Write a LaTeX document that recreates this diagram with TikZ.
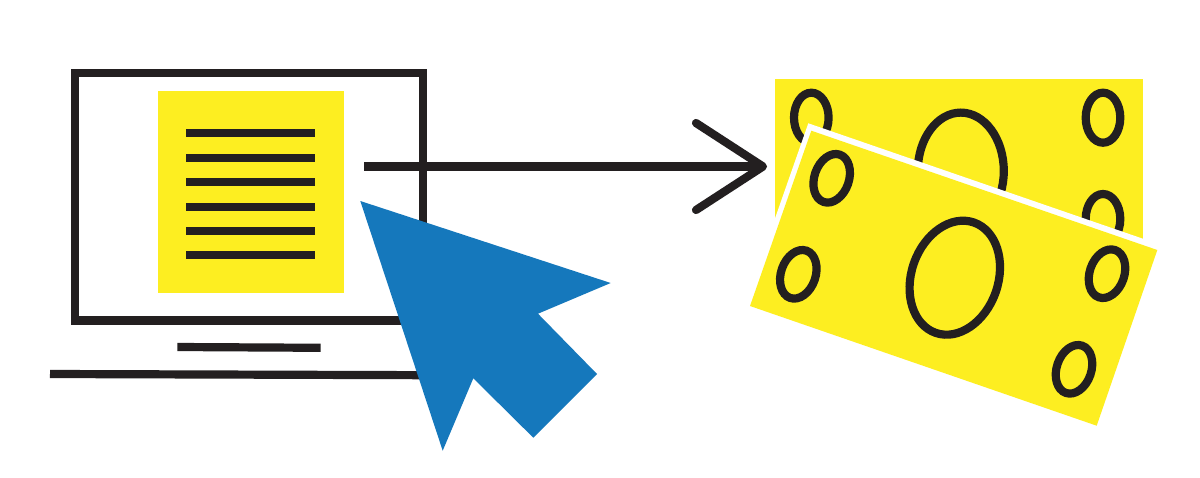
\documentclass[tikz,border=0pt]{standalone}
\definecolor{noteyellow}{HTML}{FDEE21}
\definecolor{inkblack}{HTML}{231F20}
\definecolor{cursorblue}{HTML}{1578BC}
\tikzset{
  inkline/.style={draw=inkblack,line width=8.2pt},
  yellowfill/.style={fill=noteyellow,draw=none},
  smalloval/.style={draw=inkblack,line width=8.2pt},
}
\newcommand{\ovalat}[5]{\draw[smalloval,shift={(#1,#2)},rotate=#5] (0,0) ellipse [x radius=#3pt,y radius=#4pt];}
\begin{document}
\begin{tikzpicture}[x=1pt,y=-1pt]
\useasboundingbox (0,0) rectangle (1200,477);
% laptop
\fill[white] (0,0) rectangle (1200,477);
\fill[yellowfill] (158.3,91) rectangle (343.7,292.7);
\draw[inkline] (74.7,73) rectangle (423.3,320.5);
\foreach \yy in {133,157.7,182.3,206.7,231,255.3}
  \draw[inkline] (186.3,\yy) -- (315.3,\yy);
\draw[inkline] (177.3,347) -- (320.7,347.8);
\draw[inkline] (50,374) -- (430,375.2);
% back note
\fill[yellowfill] (775.3,78.7) rectangle (1143,239);
\ovalat{811.3}{117.7}{17.3}{25}{0}
\ovalat{1103}{117.7}{17.3}{25}{0}
\ovalat{1103}{219}{17.3}{25}{0}
\ovalat{960.8}{171}{43}{58.4}{0}
% front note
\fill[white] (808.3,123.3) -- (1160,244.6) -- (1096.7,425.7) -- (745,304) -- cycle;
\fill[yellowfill] (811.3,130.7) -- (1157.3,250) -- (1096.7,425.7) -- (750,306) -- cycle;
\ovalat{831.7}{178.3}{17.3}{25}{-19}
\ovalat{798.3}{274.3}{17.3}{25}{-19}
\ovalat{1107}{273.7}{17.3}{25}{-19}
\ovalat{1074}{369.3}{17.3}{25}{-19}
\ovalat{954.8}{277.7}{43.4}{58.4}{-19}
% arrow
\coordinate (tail) at (364,166.5);
\coordinate (tip) at (763,166.5);
\coordinate (barbup) at (696,123);
\coordinate (barbdown) at (696,210);
\draw[inkline] (tail) -- (tip);
\draw[inkline,line cap=round,line join=round] (barbup) -- (tip) -- (barbdown);
% cursor
\fill[cursorblue] (360.3,201) -- (610.7,283) -- (538,313.7) -- (597,374) -- (533.3,437.7) -- (473.3,378.3) -- (442.7,450.7) -- cycle;
\end{tikzpicture}
\end{document}
